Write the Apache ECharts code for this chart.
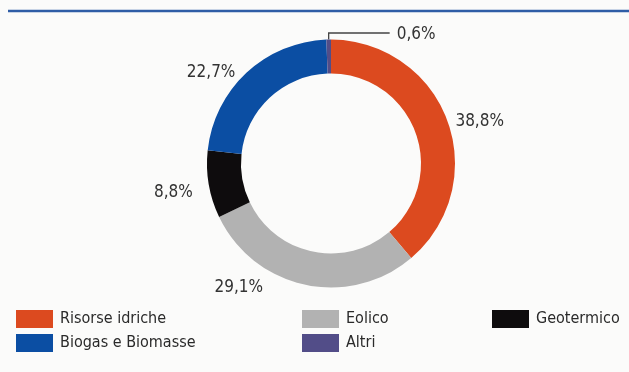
<!DOCTYPE html>
<html>
<head>
<meta charset="utf-8">
<script src="https://cdn.jsdelivr.net/npm/echarts@6/dist/echarts.min.js"></script>
<style>
  html, body { margin: 0; padding: 0; background: #fbfbfa; }
  #chart { width: 629px; height: 372px; }
</style>
</head>
<body>
<div id="chart"></div>
<script>
// Renewable sources share (%), clockwise from 12 o'clock
const categories = ['Risorse idriche', 'Eolico', 'Geotermico', 'Biogas e Biomasse', 'Altri'];
const shares = [38.8, 29.1, 8.8, 22.7, 0.6];
const colors = ['#dc4a1f', '#b2b2b2', '#0e0c0d', '#0b4ea3', '#524d88'];

// Legend columns (left to right)
const legendColumns = [
  ['Risorse idriche', 'Biogas e Biomasse'],
  ['Eolico', 'Altri'],
  ['Geotermico']
];

const CENTER = [331, 163.5];
const R_IN = 90;
const R_OUT = 124;

// condensed face through the canvas font shorthand
const FONT_FAMILY = '"DejaVu Sans", sans-serif';
const FONT_STRETCH = 'condensed';

// label offsets from the slice's outer mid-point
const labelOffsets = [
  { dx: 8, dy: 1, align: 'left' },
  { dx: -42, dy: 3, align: 'right' },
  { dx: -16, dy: 8, align: 'right' },
  { dx: -11, dy: 0, align: 'right' },
  { dx: 0, dy: 0, align: 'left' }
];

const total = shares.reduce((a, b) => a + b, 0);
function outerMidPoint(i) {
  let before = 0;
  for (let k = 0; k < i; k++) before += shares[k];
  const ang = (before + shares[i] / 2) / total * Math.PI * 2;
  return [CENTER[0] + R_OUT * Math.sin(ang), CENTER[1] - R_OUT * Math.cos(ang)];
}

function fmt(v) { return v.toFixed(1).replace('.', ',') + '%'; }

const chart = echarts.init(document.getElementById('chart'), null, { renderer: 'canvas' });

const legendBase = {
  orient: 'vertical',
  icon: 'rect',
  itemWidth: 37,
  itemHeight: 18,
  itemGap: 0,
  padding: 0,
  top: 307,
  selectedMode: false,
  textStyle: {
    fontFamily: FONT_FAMILY,
    fontWeight: FONT_STRETCH,
    fontSize: 16,
    color: '#2a2a2a',
    lineHeight: 16,
    padding: [8, 0, 0, 2]
  }
};

chart.setOption({
  animation: false,
  backgroundColor: '#fbfbfa',
  graphic: [{
    type: 'line',
    shape: { x1: 8, y1: 11, x2: 629, y2: 11 },
    style: { stroke: '#2f5da6', lineWidth: 2.5 }
  }],
  legend: legendColumns.map((col, i) => Object.assign({}, legendBase, {
    data: col,
    left: [16, 302, 492][i]
  })),
  series: [{
    type: 'pie',
    center: CENTER,
    radius: [R_IN, R_OUT],
    startAngle: 90,
    clockwise: true,
    avoidLabelOverlap: false,
    silent: true,
    data: categories.map((name, i) => ({
      name: name,
      value: shares[i],
      itemStyle: { color: colors[i] },
      labelLine: { show: i === 4, lineStyle: { color: '#444', width: 1.3 } }
    })),
    label: {
      show: true,
      position: 'outside',
      formatter: p => fmt(p.value),
      fontFamily: FONT_FAMILY,
      fontWeight: FONT_STRETCH,
      fontSize: 17,
      color: '#333'
    },
    labelLine: { length: 6, length2: 60, smooth: false },
    labelLayout: function (params) {
      const i = params.dataIndex;
      const p = outerMidPoint(i);
      if (i === 4) {
        const bend = [p[0], p[1] - 6.5];
        const end = [p[0] + 61, p[1] - 6.5];
        return {
          x: end[0] + 7,
          y: end[1] + 2,
          align: 'left',
          verticalAlign: 'middle',
          labelLinePoints: [p, bend, end]
        };
      }
      const o = labelOffsets[i];
      return {
        x: p[0] + o.dx,
        y: p[1] + o.dy,
        align: o.align,
        verticalAlign: 'middle'
      };
    }
  }]
});
</script>
</body>
</html>
